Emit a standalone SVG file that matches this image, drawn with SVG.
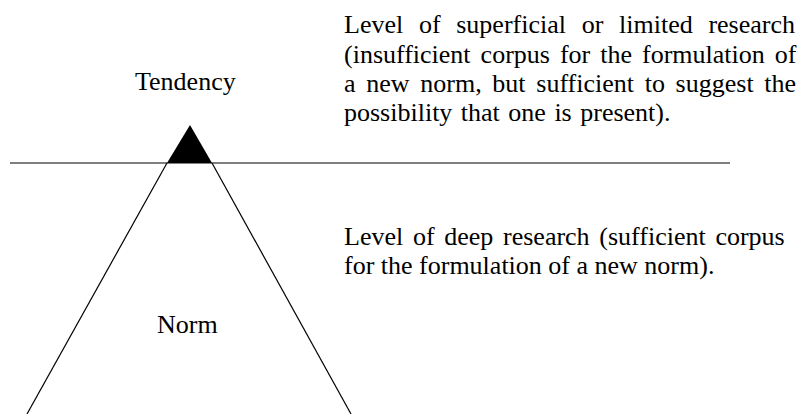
<svg xmlns="http://www.w3.org/2000/svg" width="801" height="414" viewBox="0 0 801 414">
<style>
.t{font-family:"Liberation Serif","Times New Roman",serif;font-size:26px;fill:#000}
.ln{stroke:#000;stroke-width:1.2;fill:none}
</style>
<rect width="801" height="414" fill="#fff"/>
<g id="connectors">
<line class="ln" x1="10" y1="163" x2="730" y2="163"/>
<line class="ln" x1="167" y1="163" x2="27" y2="414"/>
<line class="ln" x1="212" y1="163" x2="351" y2="414"/>
</g>
<g id="tendency-node">
<polygon points="190,125 167,163 212,163" fill="#000"/>
<text class="t" font-family="Liberation Serif" x="135" y="90">Tendency</text>
</g>
<g id="norm-node">
<text class="t" font-family="Liberation Serif" x="157" y="333">Norm</text>
</g>
<g id="superficial-text" font-family="Liberation Serif">
<text class="t" x="344" y="33" word-spacing="9.2">Level of superficial or limited research</text>
<text class="t" x="344" y="62.5" word-spacing="3.5">(insufficient corpus for the formulation of</text>
<text class="t" x="344" y="92" word-spacing="4.2">a new norm, but sufficient to suggest the</text>
<text class="t" x="344" y="120.5" word-spacing="2">possibility that one is present).</text>
</g>
<g id="deep-text" font-family="Liberation Serif">
<text class="t" x="344" y="244.5" word-spacing="3.2">Level of deep research (sufficient corpus</text>
<text class="t" x="344" y="273.5">for the formulation of a new norm).</text>
</g>
</svg>
